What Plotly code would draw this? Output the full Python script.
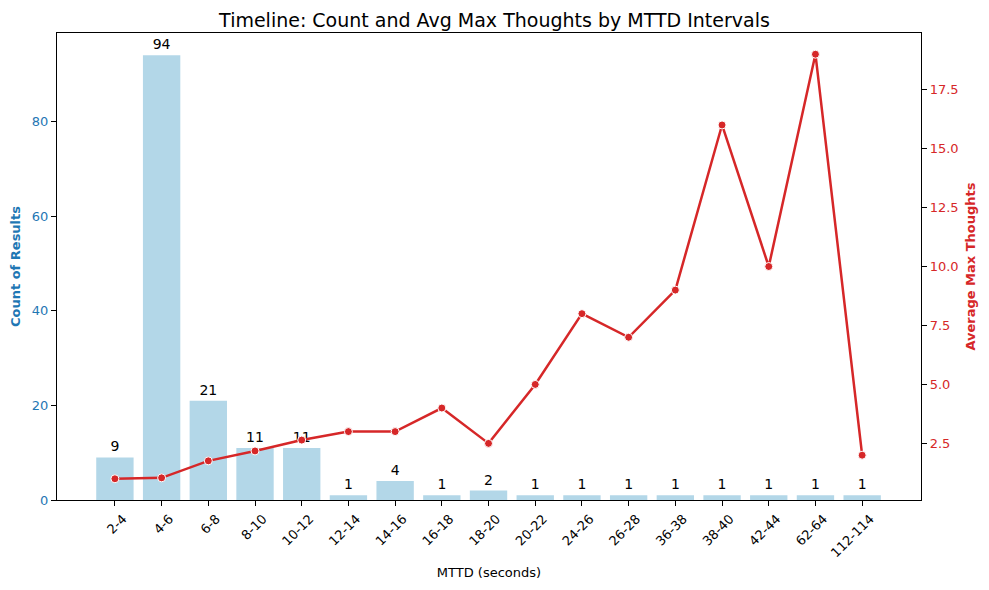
import plotly.graph_objects as go

# Intervalos de MTTD e valores
intervalos = ['2-4', '4-6', '6-8', '8-10', '10-12', '12-14', '14-16', '16-18', '18-20',
              '20-22', '24-26', '26-28', '36-38', '38-40', '42-44', '62-64', '112-114']
contagem = [9, 94, 21, 11, 11, 1, 4, 1, 2, 1, 1, 1, 1, 1, 1, 1, 1]
media_pensamentos = [1.0, 1.04, 1.76, 2.18, 2.64, 3.0, 3.0, 4.0, 2.5,
                     5.0, 8.0, 7.0, 9.0, 16.0, 10.0, 19.0, 2.0]

fonte = 'DejaVu Sans'
azul = '#1f77b4'
vermelho = '#d62728'

fig = go.Figure()

# Barras com a contagem
fig.add_trace(go.Bar(x=intervalos, y=contagem, width=0.8,
                     marker=dict(color='#b3d7e8', line=dict(width=0)),
                     text=[str(c) for c in contagem], textposition='outside',
                     textfont=dict(family=fonte, size=14, color='black'),
                     cliponaxis=False, yaxis='y'))

# Linha com a media de pensamentos
fig.add_trace(go.Scatter(x=intervalos, y=media_pensamentos, mode='lines+markers',
                         line=dict(color=vermelho, width=2.5),
                         marker=dict(size=8, color=vermelho, line=dict(color='white', width=1)),
                         yaxis='y2'))

# a pagina tem margem de 8px no body, por isso a figura e um pouco menor
fig.update_layout(
    width=973, height=574,
    margin=dict(l=49, r=60, t=25, b=82),
    paper_bgcolor='white', plot_bgcolor='white',
    showlegend=False,
    font=dict(family=fonte, size=13, color='black'),
    title=dict(text='Timeline: Count and Avg Max Thoughts by MTTD Intervals',
               x=0.5, xanchor='center', y=0.979, yanchor='middle',
               font=dict(family=fonte, size=19, color='black')),
    xaxis=dict(type='category', automargin=False,
               title=dict(text='MTTD (seconds)', font=dict(size=13), standoff=8),
               range=[-1.24, 17.26], tickangle=-45, ticklabelshift=8,
               showline=True, linecolor='black', linewidth=1.2, mirror=True,
               ticks='outside', ticklen=5, tickcolor='black',
               showgrid=False, zeroline=False),
    yaxis=dict(automargin=False,
               title=dict(text='<b>Count of Results</b>', font=dict(size=13, color=azul), standoff=8),
               range=[0, 98.7], tickvals=[0, 20, 40, 60, 80],
               tickfont=dict(color=azul, size=13),
               showline=True, linecolor='black', linewidth=1.2,
               ticks='outside', ticklen=5, tickcolor='black',
               showgrid=False, zeroline=False),
    yaxis2=dict(automargin=False,
                title=dict(text='<b>Average Max Thoughts</b>', font=dict(size=13, color=vermelho), standoff=8),
                overlaying='y', side='right',
                range=[0.1, 19.9], tickvals=[2.5, 5, 7.5, 10, 12.5, 15, 17.5],
                ticktext=['2.5', '5.0', '7.5', '10.0', '12.5', '15.0', '17.5'],
                tickfont=dict(color=vermelho, size=13),
                showline=True, linecolor='black', linewidth=1.2,
                ticks='outside', ticklen=5, tickcolor='black',
                showgrid=False, zeroline=False),
)

fig.write_html('out.html')
